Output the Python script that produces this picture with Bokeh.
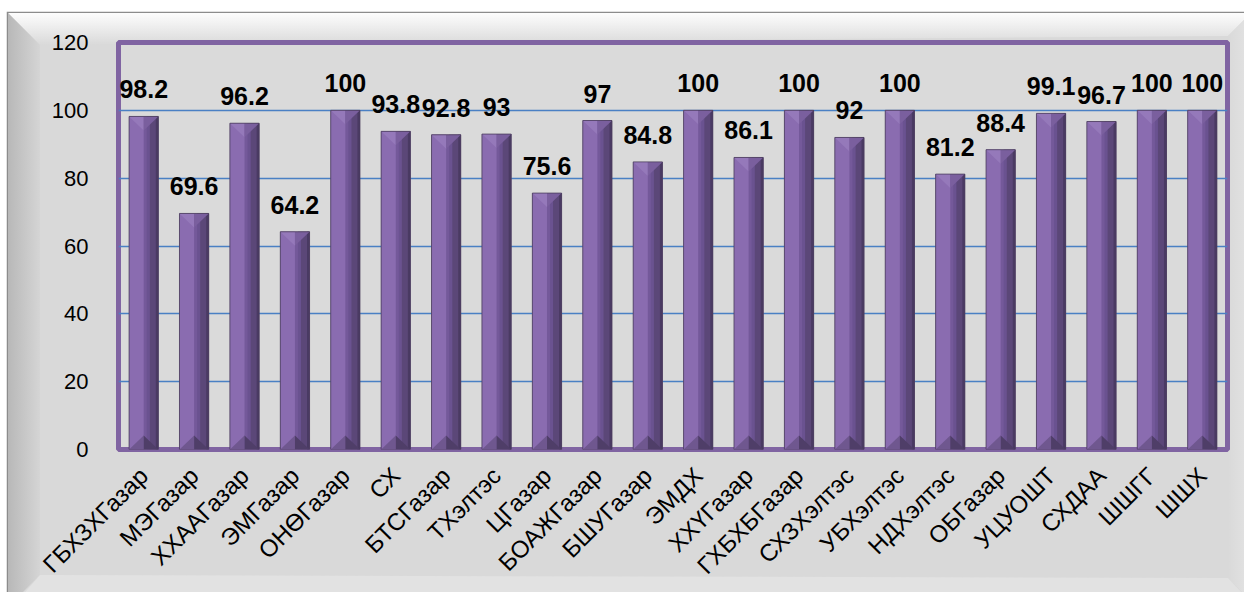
import math
from urllib.parse import quote
from bokeh.plotting import figure
from bokeh.models import ColumnDataSource, Range1d, FixedTicker
from bokeh.core.properties import value
from bokeh.embed import file_html
from bokeh.resources import INLINE

categories = ["ГБХЗХГазар", "МЭГазар", "ХХААГазар", "ЭМГазар", "ОНӨГазар", "СХ",
              "БТСГазар", "ТХэлтэс", "ЦГазар", "БОАЖГазар", "БШУГазар", "ЭМДХ",
              "ХХҮГазар", "ГХБХБГазар", "СХЗХэлтэс", "УБХэлтэс", "НДХэлтэс", "ОБГазар",
              "УЦУОШТ", "СХДАА", "ШШГГ", "ШШХ"]
values = [98.2, 69.6, 96.2, 64.2, 100, 93.8, 92.8, 93, 75.6, 97, 84.8, 100,
          86.1, 100, 92, 100, 81.2, 88.4, 99.1, 96.7, 100, 100]
y_ticks = [0, 20, 40, 60, 80, 100, 120]

n = len(categories)
xc = [i + 0.5 for i in range(n)]
labels = ["%g" % v for v in values]

W, H = 1244, 592
FL, FR, FT, FB = 118, 17, 42, 143
frame_h = H - FT - FB
ymax = 120
upp = ymax / frame_h  # data units per pixel (y)

# decorative bevelled chart-area background (CSS background of the figure element)
bg_svg = (
    '<svg xmlns="http://www.w3.org/2000/svg" width="%d" height="%d">' % (W, H) +
    '<defs>'
    '<linearGradient id="t" x1="0" y1="0" x2="0" y2="1">'
    '<stop offset="0" stop-color="#fdfdfd"/><stop offset="1" stop-color="#d9d9d9"/></linearGradient>'
    '<linearGradient id="l" x1="0" y1="0" x2="1" y2="0">'
    '<stop offset="0" stop-color="#b8b8b8"/><stop offset="1" stop-color="#d5d5d5"/></linearGradient>'
    '<linearGradient id="r" x1="0" y1="0" x2="1" y2="0">'
    '<stop offset="0" stop-color="#d9d9d9"/><stop offset="1" stop-color="#e4e4e4"/></linearGradient>'
    '</defs>'
    '<rect x="0" y="0" width="%d" height="%d" fill="#ffffff"/>' % (W, H) +
    '<rect x="7.5" y="12.5" width="1250" height="620" fill="#d9d9d9" stroke="#8c8c8c" stroke-width="1.5"/>'
    '<polygon points="8,13 1251,13 1228,36 40,45" fill="url(#t)"/>'
    '<polygon points="8,13 40,45 40,575 8,607" fill="url(#l)"/>'
    '<polygon points="1251,13 1228,36 1228,578 1251,601" fill="url(#r)"/>'
    '<polygon points="40,575 1228,578 1260,612 8,612" fill="#e2e2e2"/>'
    '</svg>'
)
bg_css = 'url("data:image/svg+xml;utf8,%s") no-repeat 0 0' % quote(bg_svg)

p = figure(width=W, height=H, output_backend="svg", toolbar_location=None,
           x_range=Range1d(0, n), y_range=Range1d(0, ymax),
           min_border_left=FL, min_border_right=FR, min_border_top=FT, min_border_bottom=FB,
           styles={"background": bg_css})
p.background_fill_color = "#dadada"
p.border_fill_alpha = 0
p.outline_line_color = "#8064a2"
p.outline_line_width = 5

# --- grid & axes ---
p.xgrid.grid_line_color = None
p.ygrid.ticker = FixedTicker(ticks=y_ticks)
p.ygrid.grid_line_color = "#4a80c4"
p.ygrid.grid_line_width = 1.5

p.yaxis.ticker = FixedTicker(ticks=y_ticks)
p.xaxis.ticker = FixedTicker(ticks=xc)
p.xaxis.major_label_overrides = {x: c for x, c in zip(xc, categories)}
for ax in (p.xaxis, p.yaxis):
    ax.axis_line_color = None
    ax.major_tick_line_color = None
    ax.minor_tick_line_color = None
    ax.major_label_text_font = "Liberation Sans"
    ax.major_label_text_color = "black"
p.yaxis.major_label_text_font_size = "22px"
p.xaxis.major_label_text_font_size = "24px"
p.yaxis.major_label_standoff = 24
p.xaxis.major_label_orientation = math.pi / 4
p.xaxis.major_label_standoff = 16

# --- bars with 3D bevel look ---
hw = 0.29
d = 14 * upp
src = ColumnDataSource(dict(x=xc, top=values, label=labels))
p.vbar(x="x", top="top", bottom=0, width=2 * hw, source=src, fill_color="#74599a", line_color=None)
p.vbar(x=[x - hw / 2 for x in xc], top=values, bottom=0, width=hw, fill_color="#8a6cb0", line_color=None)
p.vbar(x=[x + 0.09 for x in xc], top=values, bottom=0, width=0.06, fill_color="#6a5290", line_color=None)
p.vbar(x=[x + 0.205 for x in xc], top=values, bottom=0, width=0.17, fill_color="#5b4778", line_color=None)
p.vbar(x=[x + 0.265 for x in xc], top=values, bottom=0, width=0.05, fill_color="#4a3a63", line_color=None)

tl_x = [[x - hw, x, x] for x in xc]
tl_y = [[v, v, v - d] for v in values]
tr_x = [[x, x + hw, x] for x in xc]
bl_y = [[0, 0, d] for v in values]
p.patches(tl_x, tl_y, fill_color="#9579ba", line_color=None)
p.patches(tr_x, tl_y, fill_color="#7a5f9e", line_color=None)
p.patches(tl_x, bl_y, fill_color="#6f578f", line_color=None)
p.patches(tr_x, bl_y, fill_color="#4f3e68", line_color=None)
p.vbar(x="x", top="top", bottom=0, width=2 * hw, source=src, fill_color=None,
       line_color="#4b3d5c", line_width=1, line_alpha=0.8)

# --- data labels ---
p.text(x="x", y="top", text="label", source=src, text_align="center", text_baseline="middle",
       y_offset=-27, text_font=value("Liberation Sans"), text_font_style="bold",
       text_font_size="25px", text_color="black")

open("out.html", "w").write(file_html(p, INLINE))
